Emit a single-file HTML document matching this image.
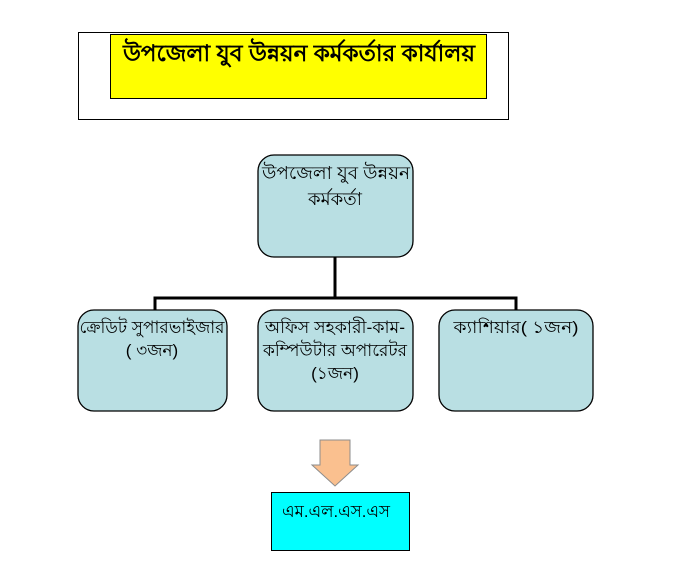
<!DOCTYPE html>
<html><head><meta charset="utf-8"><style>
html,body{margin:0;padding:0;background:#fff;width:683px;height:570px;overflow:hidden}
text{font-family:"Liberation Sans","Noto Sans CJK SC",sans-serif;fill:#000}
</style></head><body>
<svg width="683" height="570" viewBox="0 0 683 570" xmlns="http://www.w3.org/2000/svg">
<rect x="78.5" y="32.5" width="430" height="87" fill="#fff" stroke="#000" stroke-width="1"/>
<rect x="110.5" y="34.5" width="376" height="64" fill="#ffff00" stroke="#000" stroke-width="1"/>
<text x="299" y="61" font-size="23" font-weight="bold" text-anchor="middle" textLength="352" lengthAdjust="spacingAndGlyphs">উপজেলা যুব উন্নয়ন কর্মকর্তার কার্যালয়</text>
<path d="M335 257V298M155 310V298H516V310" fill="none" stroke="#000" stroke-width="3"/>
<rect x="258" y="155" width="155" height="102" rx="16" fill="#b9dfe3" stroke="#000" stroke-width="1.3"/>
<text x="336" y="179" font-size="18" text-anchor="middle" textLength="148" lengthAdjust="spacingAndGlyphs">উপজেলা যুব উন্নয়ন</text>
<text x="335" y="205" font-size="18" text-anchor="middle">কর্মকর্তা</text>
<rect x="78" y="310" width="149" height="101" rx="16" fill="#b9dfe3" stroke="#000" stroke-width="1.3"/>
<text x="152" y="333" font-size="17" text-anchor="middle" textLength="145" lengthAdjust="spacingAndGlyphs">ক্রেডিট সুপারভাইজার</text>
<text x="152" y="356" font-size="17" text-anchor="middle">( ৩জন)</text>
<rect x="258" y="310" width="155" height="101" rx="16" fill="#b9dfe3" stroke="#000" stroke-width="1.3"/>
<text x="335" y="333" font-size="17" text-anchor="middle" textLength="140" lengthAdjust="spacingAndGlyphs">অফিস সহকারী-কাম-</text>
<text x="335" y="356" font-size="17" text-anchor="middle" textLength="144" lengthAdjust="spacingAndGlyphs">কম্পিউটার অপারেটর</text>
<text x="335" y="379" font-size="17" text-anchor="middle">(১জন)</text>
<rect x="439" y="310" width="154" height="101" rx="16" fill="#b9dfe3" stroke="#000" stroke-width="1.3"/>
<text x="516" y="333" font-size="17" text-anchor="middle" textLength="125" lengthAdjust="spacingAndGlyphs">ক্যাশিয়ার( ১জন)</text>
<path d="M320 440H350V465H358L335 486L312 465H320Z" fill="#fac08f" stroke="#8c8c8c" stroke-width="1"/>
<rect x="271.5" y="492.5" width="138" height="58" fill="#00ffff" stroke="#000" stroke-width="1"/>
<text x="282" y="517" font-size="17" textLength="108" lengthAdjust="spacingAndGlyphs">এম.এল.এস.এস</text>
</svg>
</body></html>
